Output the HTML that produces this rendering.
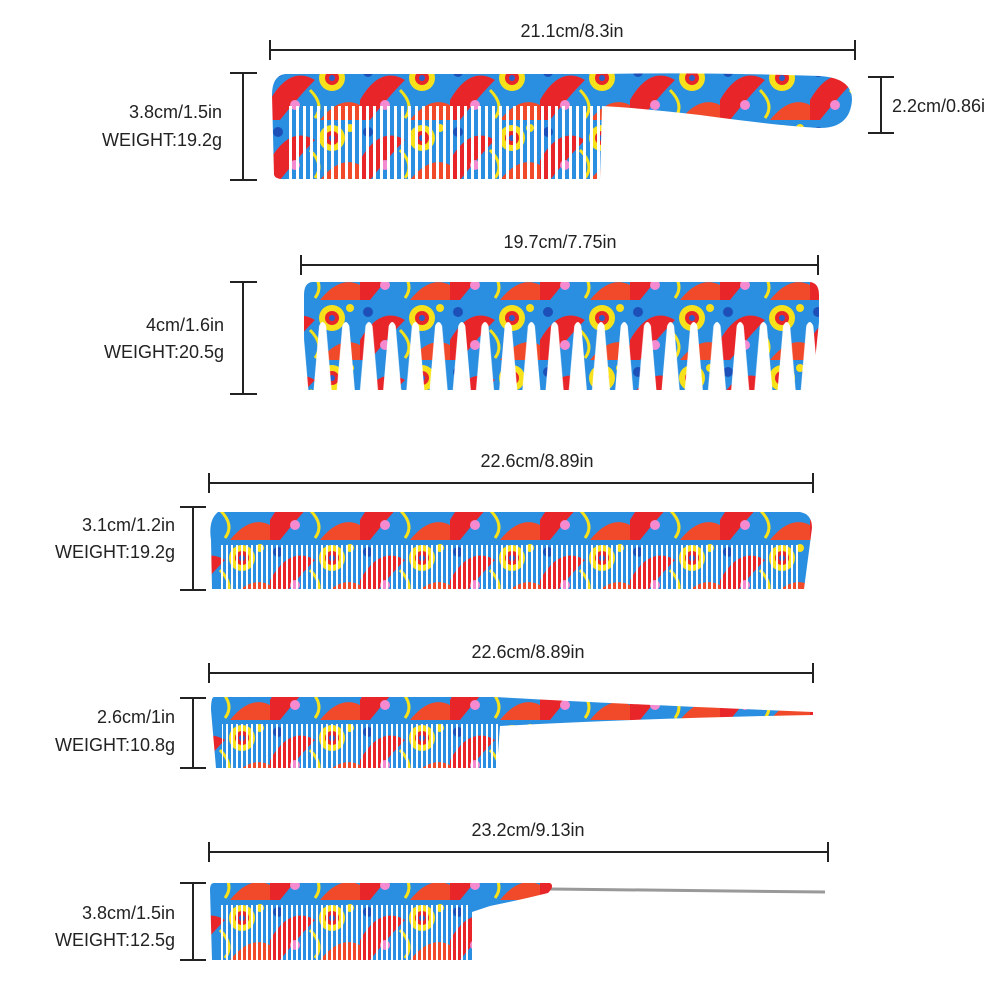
<!DOCTYPE html>
<html><head><meta charset="utf-8"><style>
html,body{margin:0;padding:0;background:#fff;}
svg{display:block;}
text{font-family:"Liberation Sans",sans-serif;font-size:18px;fill:#222;}
</style></head><body>
<svg width="1000" height="1000" viewBox="0 0 1000 1000" xmlns="http://www.w3.org/2000/svg">
<defs>
<pattern id="pz" patternUnits="userSpaceOnUse" width="90" height="60">
<rect width="90" height="60" fill="#2a8fe0"/>
<path d="M0 40 Q20 5 45 20 Q30 35 10 60 L0 60Z" fill="#e8262a"/>
<circle cx="62" cy="18" r="13" fill="#f7e11b"/>
<circle cx="62" cy="18" r="7" fill="#e8262a"/>
<circle cx="62" cy="18" r="3" fill="#2a60c8"/>
<path d="M50 60 Q70 35 90 45 L90 60Z" fill="#f04a2a"/>
<circle cx="25" cy="45" r="5" fill="#f48ad0"/>
<circle cx="80" cy="8" r="4" fill="#f7e11b"/>
<path d="M40 30 Q55 45 45 58" stroke="#f7e11b" stroke-width="3" fill="none"/>
<circle cx="8" cy="12" r="5" fill="#1d4fb8"/>
</pattern>
<pattern id="g1" patternUnits="userSpaceOnUse" width="7" height="10" x="285">
<rect x="4" width="3" height="10" fill="#fff"/>
</pattern>
<pattern id="g3" patternUnits="userSpaceOnUse" width="5" height="10" x="218">
<rect x="3" width="2.2" height="10" fill="#fff"/>
</pattern>
<pattern id="g2" patternUnits="userSpaceOnUse" width="23.2" height="80" x="311" y="318">
<path d="M8.1 8 Q11.6 0 15.1 8 L20.6 72 L2.6 72 Z" fill="#fff"/>
</pattern>
</defs>
<g stroke="#222" stroke-width="2" fill="none">
<path d="M270 50H855M270 40V60M855 40V60"/>
<path d="M243 73V180M230 73H257M230 180H257"/>
<path d="M881 77V133M868 77H894M868 133H894"/>
<path d="M301 265H818M301 255V275M818 255V275"/>
<path d="M243 282V394M230 282H257M230 394H257"/>
<path d="M209 483H813M209 473V493M813 473V493"/>
<path d="M193 507V590M180 507H206M180 590H206"/>
<path d="M209 673H813M209 663V683M813 663V683"/>
<path d="M193 698V768M180 698H206M180 768H206"/>
<path d="M209 852H828M209 842V862M828 842V862"/>
<path d="M193 883V960M180 883H206M180 960H206"/>
</g>
<text x="572" y="37" text-anchor="middle">21.1cm/8.3in</text>
<text x="222" y="118" text-anchor="end">3.8cm/1.5in</text>
<text x="222" y="146" text-anchor="end">WEIGHT:19.2g</text>
<text x="892" y="112">2.2cm/0.86i</text>
<text x="560" y="248" text-anchor="middle">19.7cm/7.75in</text>
<text x="224" y="331" text-anchor="end">4cm/1.6in</text>
<text x="224" y="358" text-anchor="end">WEIGHT:20.5g</text>
<text x="537" y="467" text-anchor="middle">22.6cm/8.89in</text>
<text x="175" y="531" text-anchor="end">3.1cm/1.2in</text>
<text x="175" y="558" text-anchor="end">WEIGHT:19.2g</text>
<text x="528" y="658" text-anchor="middle">22.6cm/8.89in</text>
<text x="175" y="723" text-anchor="end">2.6cm/1in</text>
<text x="175" y="751" text-anchor="end">WEIGHT:10.8g</text>
<text x="528" y="836" text-anchor="middle">23.2cm/9.13in</text>
<text x="175" y="919" text-anchor="end">3.8cm/1.5in</text>
<text x="175" y="946" text-anchor="end">WEIGHT:12.5g</text>

<path d="M285 74 Q272 76 272 95 L274 175 Q276 180 286 179 L600 179 L602 106 Q640 108 700 115 Q780 126 820 128 Q850 128 852 100 Q852 78 820 76 Q700 72 600 74 Z" fill="url(#pz)"/>
<rect x="286" y="106" width="314" height="73" fill="url(#g1)"/>
<path d="M312 282 H810 Q819 283 819 295 V322 L812 390 H805 L304 390 V295 Q304 283 312 282Z" fill="url(#pz)"/>
<rect x="304" y="322" width="516" height="72" fill="url(#g2)"/>
<rect x="304" y="390" width="516" height="6" fill="#fff"/>
<path d="M218 512 H800 Q812 514 812 528 L804 589 H212 L211 540 Q208 520 218 512Z" fill="url(#pz)"/>
<rect x="218" y="545" width="580" height="46" fill="url(#g3)"/>
<path d="M214 697 H495 Q620 704 813 712 L813 715 Q650 718 500 726 L497 768 H216 L211 710 Q211 697 214 697Z" fill="url(#pz)"/>
<rect x="222" y="724" width="276" height="45" fill="url(#g3)"/>
<line x1="550" y1="889" x2="825" y2="892" stroke="#999" stroke-width="3"/>
<path d="M214 883 H550 Q555 886 548 893 Q520 900 490 906 L472 912 L472 960 H212 L210 890 Q210 883 214 883Z" fill="url(#pz)"/>
<rect x="218" y="905" width="250" height="56" fill="url(#g3)"/>
</svg>
</body></html>
